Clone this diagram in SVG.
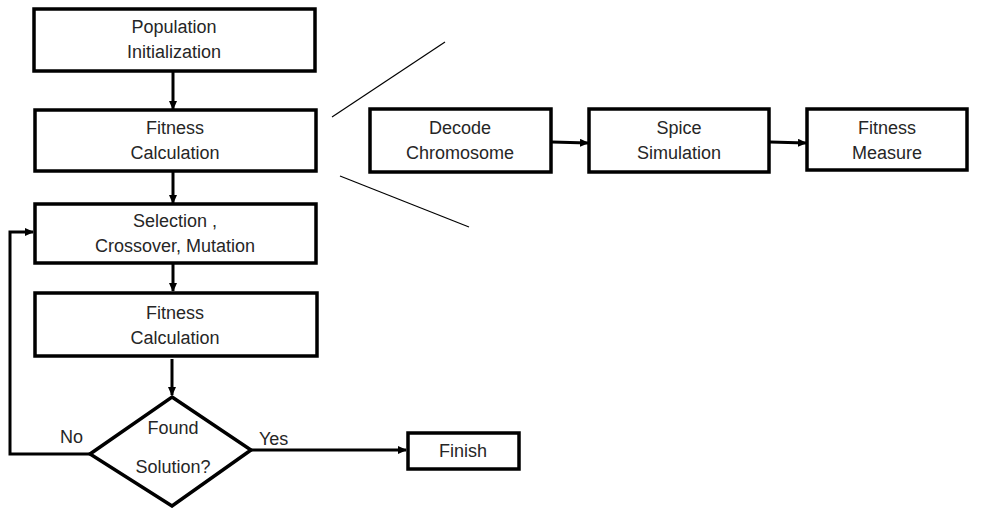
<svg xmlns="http://www.w3.org/2000/svg" width="988" height="508" viewBox="0 0 988 508">
<style>
.box{fill:#fff;stroke:#000;stroke-width:3.5}
.t{font-family:"Liberation Sans",Arial,sans-serif;font-size:18px;fill:#262626;text-anchor:middle}
.tl{font-family:"Liberation Sans",Arial,sans-serif;font-size:18px;fill:#262626}
.c{fill:none;stroke:#000;stroke-width:3}
.thin{fill:none;stroke:#000;stroke-width:1.2}
</style>
<defs>
<marker id="ah" markerWidth="10" markerHeight="10" refX="8" refY="4" orient="auto" markerUnits="userSpaceOnUse">
<path d="M0,0 L9,4 L0,8 Z" fill="#000"/>
</marker>
</defs>
<rect width="988" height="508" fill="#fff"/>
<g id="connectors">
<line class="c" x1="173" y1="71" x2="173" y2="109" marker-end="url(#ah)"/>
<line class="c" x1="173" y1="172" x2="173" y2="203" marker-end="url(#ah)"/>
<line class="c" x1="173" y1="263" x2="173" y2="291" marker-end="url(#ah)"/>
<line class="c" x1="172" y1="359" x2="172" y2="395" marker-end="url(#ah)"/>
<polyline class="c" points="90,454 10,454 10,232 33,232" marker-end="url(#ah)"/>
<line class="c" x1="251" y1="450" x2="406" y2="450" marker-end="url(#ah)"/>
<line class="c" x1="552" y1="142" x2="588" y2="143" marker-end="url(#ah)"/>
<line class="c" x1="770" y1="142" x2="806" y2="143" marker-end="url(#ah)"/>
<line class="thin" x1="332" y1="117" x2="445" y2="42"/>
<line class="thin" x1="340" y1="176" x2="469" y2="227"/>
<text class="tl" x="60" y="443">No</text>
<text class="tl" x="259" y="445">Yes</text>
</g>
<g id="population">
<rect class="box" x="34" y="9" width="281" height="62"/>
<text class="t" x="174" y="33">Population</text>
<text class="t" x="174" y="58">Initialization</text>
</g>
<g id="fitness1">
<rect class="box" x="35" y="110" width="281" height="61"/>
<text class="t" x="175" y="134">Fitness</text>
<text class="t" x="175" y="159">Calculation</text>
</g>
<g id="selection">
<rect class="box" x="35" y="204" width="281" height="59"/>
<text class="t" x="175" y="227">Selection ,</text>
<text class="t" x="175" y="252">Crossover, Mutation</text>
</g>
<g id="fitness2">
<rect class="box" x="35" y="293" width="282" height="63"/>
<text class="t" x="175" y="319">Fitness</text>
<text class="t" x="175" y="344">Calculation</text>
</g>
<g id="decision">
<polygon class="box" points="172,397 251,450 172,506 90,454"/>
<text class="t" x="173" y="434">Found</text>
<text class="t" x="173" y="473">Solution?</text>
</g>
<g id="finish">
<rect class="box" x="408" y="433" width="111" height="36"/>
<text class="t" x="463" y="457">Finish</text>
</g>
<g id="decode">
<rect class="box" x="370" y="109" width="181" height="63"/>
<text class="t" x="460" y="134">Decode</text>
<text class="t" x="460" y="159">Chromosome</text>
</g>
<g id="spice">
<rect class="box" x="589" y="109" width="180" height="63"/>
<text class="t" x="679" y="134">Spice</text>
<text class="t" x="679" y="159">Simulation</text>
</g>
<g id="measure">
<rect class="box" x="807" y="109" width="160" height="61"/>
<text class="t" x="887" y="134">Fitness</text>
<text class="t" x="887" y="159">Measure</text>
</g>
</svg>
